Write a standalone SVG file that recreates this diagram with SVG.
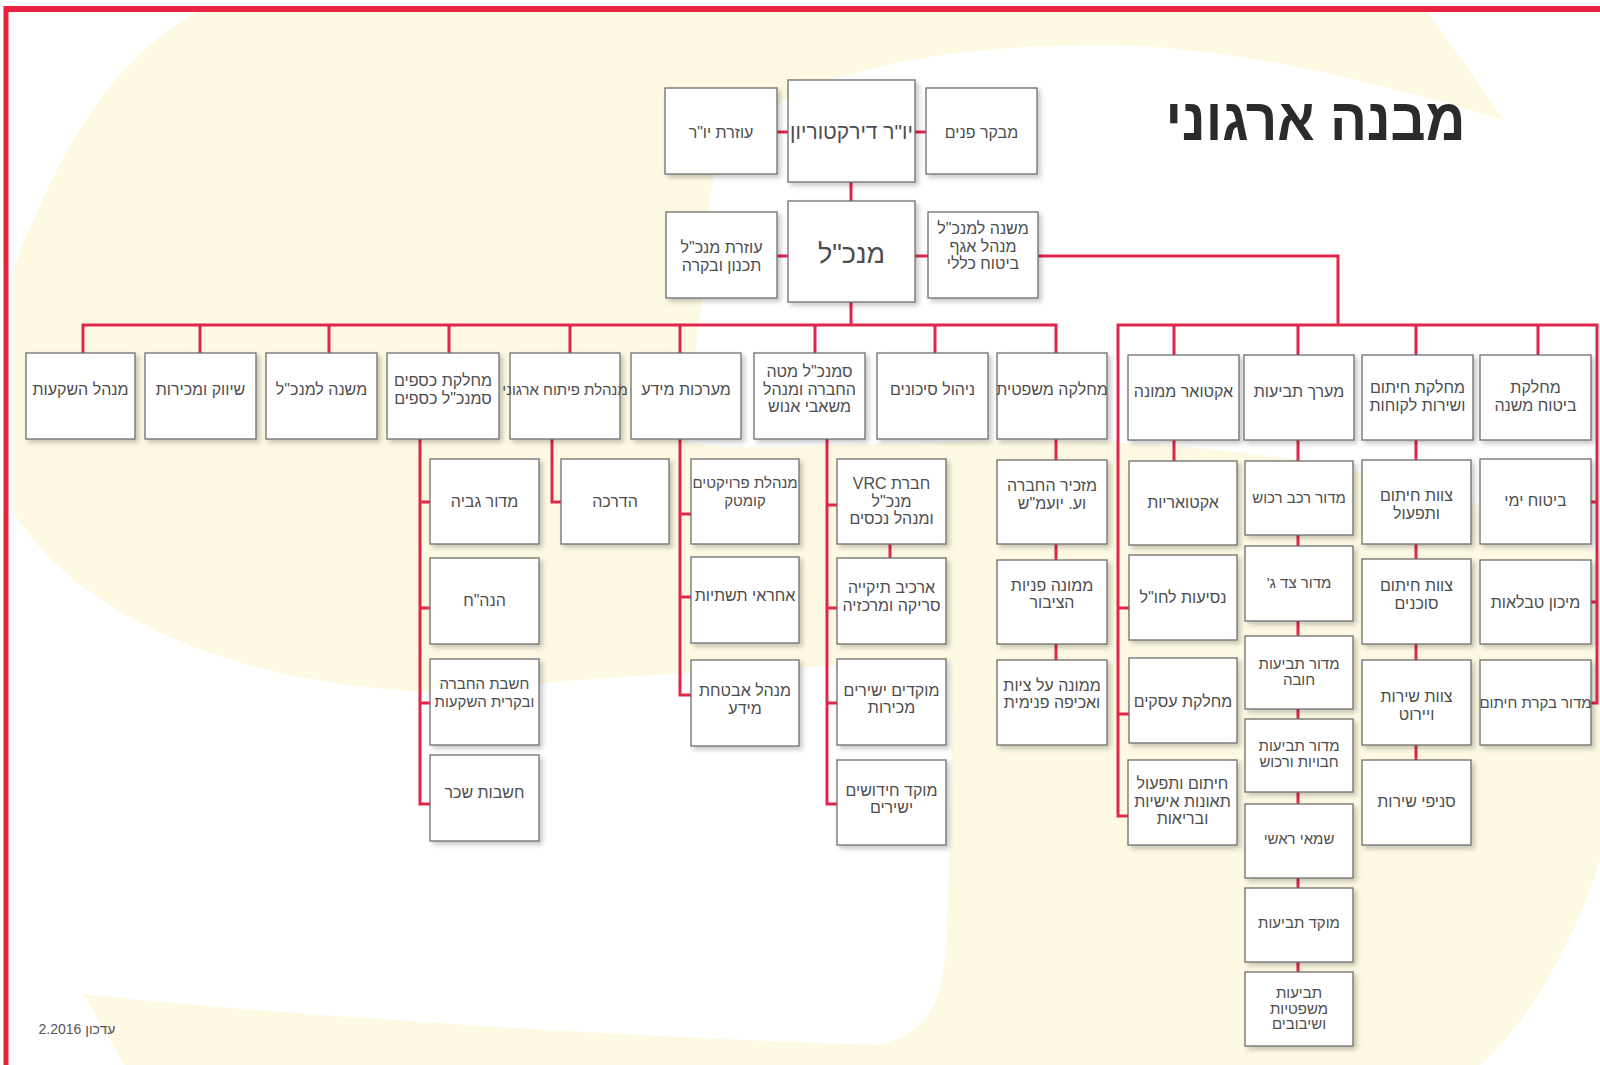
<svg xmlns="http://www.w3.org/2000/svg" width="1600" height="1065" viewBox="0 0 1600 1065">
<style>
.bx{fill:#fff;stroke:#6e6e6e;stroke-width:1.3;filter:url(#sh)}
.t{font-family:"Liberation Sans","DejaVu Sans",sans-serif;font-size:16px;fill:#4d4d4d;text-anchor:middle;direction:rtl}
.s{font-size:15px}
.c{fill:none;stroke:#E1264B;stroke-width:3;stroke-linejoin:miter;stroke-linecap:butt}
</style>
<defs>
<filter id="sh" x="-10%" y="-10%" width="130%" height="130%">
<feDropShadow dx="3" dy="3" stdDeviation="2.5" flood-color="#000" flood-opacity="0.22"/>
</filter>
</defs>
<g id="background">
<rect x="0" y="0" width="1600" height="1065" fill="#fff"/>
<path fill="#FDF9E3" d="M197,12 L1428,12 L1504,120 C1420,95 1250,45 1100,45 C980,45 860,60 786,100 C740,125 714,150 710,200 C705,300 690,380 684,440 C700,452 800,445 1000,441 C1200,438 1400,460 1600,552 L1600,861 C1570,950 1530,1020 1480,1065 L125,1065 L83,994 C300,1018 700,1040 880,1045 C920,1035 940,1010 945,960 C950,880 953,750 950,663 C800,665 600,675 450,692 C250,690 80,620 14,513 L14,268 C60,150 110,60 197,12 Z"/>
<line x1="4" y1="9" x2="1600" y2="9" stroke="#E8223F" stroke-width="6"/>
<line x1="6" y1="6" x2="6" y2="1065" stroke="#E8223F" stroke-width="5"/>
</g>
<text id="title" x="1315.5" y="140" font-family="Liberation Sans, DejaVu Sans, sans-serif" font-size="60" font-weight="bold" fill="#2b2b2b" text-anchor="middle" direction="rtl" textLength="300" lengthAdjust="spacingAndGlyphs">מבנה ארגוני</text>
<text id="footer" x="77" y="1034" font-family="Liberation Sans, DejaVu Sans, sans-serif" font-size="14" fill="#555" text-anchor="middle" direction="rtl">עדכון 2.2016</text>
<g id="connectors" class="c">
<path d="M777,132 H788 M915,132 H926 M851,182 V201 M777,256 H788 M915,256 H928 M1038,256 H1338 V325 M851,302 V325"/>
<path d="M83,353 V325 H1056 V353 M200,325 V353 M329,325 V353 M449,325 V353 M570,325 V353 M680,325 V353 M815,325 V353 M935,325 V353"/>
<path d="M1128,816 H1118 V325 H1597 V703 H1591 M1174,325 V355 M1298,325 V355 M1416,325 V355 M1538,325 V355"/>
<path d="M1591,502 H1597 M1591,602 H1597 M1118,608 H1129 M1118,714 H1129 M1174,440 V461 M1298,440 V972 M1416,440 V760"/>
<path d="M420,439 V804 H430 M420,502 H430 M420,608 H430 M420,703 H430 M552,439 V502 H561 M680,439 V695 H691 M680,514 H691 M680,597 H691 M827,439 V804 H837 M827,505 H837 M827,608 H837 M827,703 H837 M890,544 V558 M1056,439 V660"/>
</g>
<g id="n-chair-assistant"><rect class="bx" x="665" y="88" width="112" height="86"/><text class="t" x="721" y="138">עוזרת יו"ר</text></g>
<g id="n-chairman"><rect class="bx" x="788" y="80" width="127" height="102"/><text class="t" x="851.5" y="139" style="font-size:21px">יו"ר דירקטוריון</text></g>
<g id="n-internal-audit"><rect class="bx" x="926" y="88" width="111" height="86"/><text class="t" x="981.5" y="138">מבקר פנים</text></g>
<g id="n-ceo"><rect class="bx" x="788" y="201" width="127" height="101"/><text class="t" x="851.5" y="263" style="font-size:27px">מנכ"ל</text></g>
<g id="n-ceo-assistant"><rect class="bx" x="666" y="212" width="111" height="86"/><text class="t" x="721.5" y="253"><tspan x="721.5">עוזרת מנכ"ל</tspan><tspan x="721.5" dy="17.5">תכנון ובקרה</tspan></text></g>
<g id="n-deputy-general"><rect class="bx" x="928" y="212" width="110" height="86"/><text class="t" x="983" y="234"><tspan x="983">משנה למנכ"ל</tspan><tspan x="983" dy="17.5">מנהל אגף</tspan><tspan x="983" dy="17.5">ביטוח כללי</tspan></text></g>
<g id="n-investments"><rect class="bx" x="26" y="353" width="109" height="86"/><text class="t" x="80.5" y="395">מנהל השקעות</text></g>
<g id="n-marketing"><rect class="bx" x="145" y="353" width="111" height="86"/><text class="t" x="200.5" y="395">שיווק ומכירות</text></g>
<g id="n-deputy-ceo"><rect class="bx" x="266" y="353" width="111" height="86"/><text class="t" x="321.5" y="395">משנה למנכ"ל</text></g>
<g id="n-finance"><rect class="bx" x="387" y="353" width="112" height="86"/><text class="t" x="443" y="386"><tspan x="443">מחלקת כספים</tspan><tspan x="443" dy="17.5">סמנכ"ל כספים</tspan></text></g>
<g id="n-org-dev"><rect class="bx" x="510" y="353" width="110" height="86"/><text class="t s" x="565" y="395">מנהלת פיתוח ארגוני</text></g>
<g id="n-it"><rect class="bx" x="631" y="353" width="110" height="86"/><text class="t" x="686" y="395">מערכות מידע</text></g>
<g id="n-hq"><rect class="bx" x="754" y="353" width="111" height="86"/><text class="t" x="809.5" y="377"><tspan x="809.5">סמנכ"ל מטה</tspan><tspan x="809.5" dy="17.5">החברה ומנהל</tspan><tspan x="809.5" dy="17.5">משאבי אנוש</tspan></text></g>
<g id="n-risk"><rect class="bx" x="877" y="353" width="111" height="86"/><text class="t" x="932.5" y="395">ניהול סיכונים</text></g>
<g id="n-legal"><rect class="bx" x="997" y="353" width="110" height="86"/><text class="t" x="1052" y="395">מחלקה משפטית</text></g>
<g id="n-collection"><rect class="bx" x="430" y="459" width="109" height="85"/><text class="t" x="484.5" y="507">מדור גביה</text></g>
<g id="n-bookkeeping"><rect class="bx" x="430" y="558" width="109" height="86"/><text class="t" x="484.5" y="606">הנה"ח</text></g>
<g id="n-controller"><rect class="bx" x="430" y="659" width="109" height="86"/><text class="t s" x="484.5" y="689"><tspan x="484.5">חשבת החברה</tspan><tspan x="484.5" dy="17.5">ובקרית השקעות</tspan></text></g>
<g id="n-payroll"><rect class="bx" x="430" y="755" width="109" height="86"/><text class="t" x="484.5" y="798">חשבות שכר</text></g>
<g id="n-training"><rect class="bx" x="561" y="459" width="108" height="85"/><text class="t" x="615" y="507">הדרכה</text></g>
<g id="n-comtec"><rect class="bx" x="691" y="459" width="108" height="85"/><text class="t s" x="745" y="488"><tspan x="745">מנהלת פרויקטים</tspan><tspan x="745" dy="17.5">קומטק</tspan></text></g>
<g id="n-infra"><rect class="bx" x="691" y="557" width="108" height="86"/><text class="t" x="745" y="601">אחראי תשתיות</text></g>
<g id="n-infosec"><rect class="bx" x="691" y="660" width="108" height="86"/><text class="t" x="745" y="696"><tspan x="745">מנהל אבטחת</tspan><tspan x="745" dy="17.5">מידע</tspan></text></g>
<g id="n-vrc"><rect class="bx" x="837" y="459" width="109" height="85"/><text class="t" x="891.5" y="489"><tspan x="891.5">חברת VRC</tspan><tspan x="891.5" dy="17.5">מנכ"ל</tspan><tspan x="891.5" dy="17.5">ומנהל נכסים</tspan></text></g>
<g id="n-archive"><rect class="bx" x="837" y="558" width="109" height="86"/><text class="t" x="891.5" y="593"><tspan x="891.5">ארכיב תיקייה</tspan><tspan x="891.5" dy="17.5">סריקה ומרכזיה</tspan></text></g>
<g id="n-direct-sales"><rect class="bx" x="837" y="659" width="109" height="86"/><text class="t" x="891.5" y="695.5"><tspan x="891.5">מוקדים ישירים</tspan><tspan x="891.5" dy="17.5">מכירות</tspan></text></g>
<g id="n-renewals"><rect class="bx" x="837" y="760" width="109" height="85"/><text class="t" x="891.5" y="795.5"><tspan x="891.5">מוקד חידושים</tspan><tspan x="891.5" dy="17.5">ישירים</tspan></text></g>
<g id="n-secretary"><rect class="bx" x="997" y="460" width="110" height="84"/><text class="t" x="1052" y="491"><tspan x="1052">מזכיר החברה</tspan><tspan x="1052" dy="17.5">וע. יועמ"ש</tspan></text></g>
<g id="n-public"><rect class="bx" x="997" y="560" width="110" height="84"/><text class="t" x="1052" y="590.5"><tspan x="1052">ממונה פניות</tspan><tspan x="1052" dy="17.5">הציבור</tspan></text></g>
<g id="n-compliance"><rect class="bx" x="997" y="660" width="110" height="85"/><text class="t" x="1052" y="690.5"><tspan x="1052">ממונה על ציות</tspan><tspan x="1052" dy="17.5">ואכיפה פנימית</tspan></text></g>
<g id="n-actuary"><rect class="bx" x="1128" y="355" width="111" height="85"/><text class="t" x="1183.5" y="397">אקטואר ממונה</text></g>
<g id="n-claims"><rect class="bx" x="1244" y="355" width="110" height="85"/><text class="t" x="1299" y="397">מערך תביעות</text></g>
<g id="n-underwriting"><rect class="bx" x="1362" y="355" width="111" height="85"/><text class="t" x="1417.5" y="393"><tspan x="1417.5">מחלקת חיתום</tspan><tspan x="1417.5" dy="17.5">ושירות לקוחות</tspan></text></g>
<g id="n-reinsurance"><rect class="bx" x="1480" y="355" width="111" height="85"/><text class="t" x="1535.5" y="393"><tspan x="1535.5">מחלקת</tspan><tspan x="1535.5" dy="17.5">ביטוח משנה</tspan></text></g>
<g id="n-actuarial"><rect class="bx" x="1129" y="461" width="108" height="84"/><text class="t" x="1183" y="508">אקטואריות</text></g>
<g id="n-travel"><rect class="bx" x="1129" y="555" width="108" height="85"/><text class="t" x="1183" y="603">נסיעות לחו"ל</text></g>
<g id="n-business"><rect class="bx" x="1129" y="658" width="108" height="85"/><text class="t" x="1183" y="707">מחלקת עסקים</text></g>
<g id="n-personal-accidents"><rect class="bx" x="1128" y="760" width="109" height="85"/><text class="t" x="1182.5" y="789"><tspan x="1182.5">חיתום ותפעול</tspan><tspan x="1182.5" dy="17.5">תאונות אישיות</tspan><tspan x="1182.5" dy="17.5">ובריאות</tspan></text></g>
<g id="n-motor"><rect class="bx" x="1245" y="461" width="108" height="74"/><text class="t s" x="1299" y="503">מדור רכב רכוש</text></g>
<g id="n-third-party"><rect class="bx" x="1245" y="546" width="108" height="75"/><text class="t s" x="1299" y="588">מדור צד ג'</text></g>
<g id="n-compulsory"><rect class="bx" x="1245" y="636" width="108" height="73"/><text class="t s" x="1299" y="669"><tspan x="1299">מדור תביעות</tspan><tspan x="1299" dy="16">חובה</tspan></text></g>
<g id="n-liability"><rect class="bx" x="1245" y="719" width="108" height="73"/><text class="t s" x="1299" y="751"><tspan x="1299">מדור תביעות</tspan><tspan x="1299" dy="16">חבויות ורכוש</tspan></text></g>
<g id="n-assessor"><rect class="bx" x="1245" y="804" width="108" height="74"/><text class="t s" x="1299" y="844">שמאי ראשי</text></g>
<g id="n-claims-center"><rect class="bx" x="1245" y="888" width="108" height="74"/><text class="t s" x="1299" y="928">מוקד תביעות</text></g>
<g id="n-legal-claims"><rect class="bx" x="1245" y="972" width="108" height="74"/><text class="t s" x="1299" y="998"><tspan x="1299">תביעות</tspan><tspan x="1299" dy="15.5">משפטיות</tspan><tspan x="1299" dy="15.5">ושיבובים</tspan></text></g>
<g id="n-uw-ops"><rect class="bx" x="1362" y="460" width="109" height="84"/><text class="t" x="1416.5" y="501"><tspan x="1416.5">צוות חיתום</tspan><tspan x="1416.5" dy="17.5">ותפעול</tspan></text></g>
<g id="n-uw-agents"><rect class="bx" x="1362" y="559" width="109" height="85"/><text class="t" x="1416.5" y="591"><tspan x="1416.5">צוות חיתום</tspan><tspan x="1416.5" dy="17.5">סוכנים</tspan></text></g>
<g id="n-service"><rect class="bx" x="1362" y="660" width="109" height="85"/><text class="t" x="1416.5" y="702"><tspan x="1416.5">צוות שירות</tspan><tspan x="1416.5" dy="17.5">ויירוט</tspan></text></g>
<g id="n-branches"><rect class="bx" x="1362" y="760" width="109" height="85"/><text class="t" x="1416.5" y="807">סניפי שירות</text></g>
<g id="n-marine"><rect class="bx" x="1480" y="459" width="111" height="85"/><text class="t" x="1535.5" y="506">ביטוח ימי</text></g>
<g id="n-tables"><rect class="bx" x="1480" y="560" width="111" height="84"/><text class="t" x="1535.5" y="608">מיכון טבלאות</text></g>
<g id="n-uw-control"><rect class="bx" x="1480" y="660" width="111" height="85"/><text class="t s" x="1535.5" y="708">מדור בקרת חיתום</text></g>
</svg>
